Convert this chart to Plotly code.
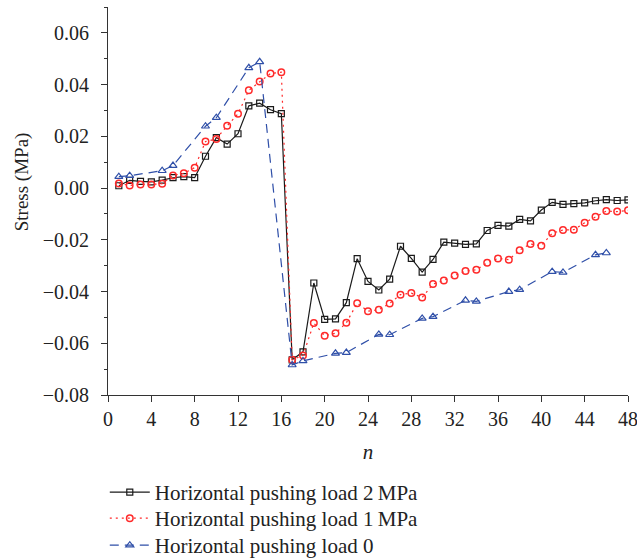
import plotly.graph_objects as go

n_all = list(range(1, 49))
load2 = [0.0009, 0.0030, 0.0026, 0.0024, 0.0031, 0.0040, 0.0044, 0.0040, 0.0123, 0.0195,
         0.0170, 0.0210, 0.0318, 0.0328, 0.0303, 0.0288, -0.0664, -0.0633, -0.0367, -0.0508,
         -0.0506, -0.0443, -0.0273, -0.0361, -0.0394, -0.0352, -0.0225, -0.0272, -0.0325, -0.0276,
         -0.0209, -0.0213, -0.0218, -0.0216, -0.0164, -0.0144, -0.0147, -0.0121, -0.0127, -0.0085,
         -0.0055, -0.0063, -0.0060, -0.0057, -0.0049, -0.0045, -0.0048, -0.0046]
load1 = [0.0018, 0.0010, 0.0014, 0.0014, 0.0017, 0.0049, 0.0057, 0.0079, 0.0180, 0.0190,
         0.0241, 0.0287, 0.0378, 0.0412, 0.0443, 0.0448, -0.0664, -0.0647, -0.0522, -0.0571,
         -0.0561, -0.0521, -0.0445, -0.0476, -0.0470, -0.0446, -0.0412, -0.0406, -0.0423, -0.0371,
         -0.0357, -0.0338, -0.0321, -0.0316, -0.0289, -0.0272, -0.0277, -0.0240, -0.0216, -0.0223,
         -0.0175, -0.0162, -0.0161, -0.0134, -0.0111, -0.0089, -0.0091, -0.0086]
n_load0 = [1, 2, 5, 6, 9, 10, 13, 14, 17, 18, 21, 22, 25, 26, 29, 30, 33, 34, 37, 38, 41, 42, 45, 46]
load0 = [0.0044, 0.0048, 0.0067, 0.0087, 0.0239, 0.0272, 0.0465, 0.0488, -0.0684, -0.0668,
         -0.0639, -0.0636, -0.0566, -0.0567, -0.0504, -0.0497, -0.0434, -0.0438, -0.0400, -0.0393,
         -0.0323, -0.0326, -0.0258, -0.0251]

x_ticks = list(range(0, 49, 4))
y_ticks = [-0.08, -0.06, -0.04, -0.02, 0.0, 0.02, 0.04, 0.06]

FONT = "Liberation Serif"
fig = go.Figure()
fig.add_trace(go.Scatter(x=n_all, y=load2, mode="lines+markers", name="Horizontal pushing load 2\u2009MPa",
                         legend="legend",
                         line=dict(color="#1a1a1a", width=1.2),
                         marker=dict(symbol="square-open", size=6, color="#1a1a1a", line=dict(width=1.2))))
fig.add_trace(go.Scatter(x=n_all, y=load1, mode="lines+markers", name="Horizontal pushing load 1\u2009MPa",
                         legend="legend2",
                         line=dict(color="#ff2a2a", width=1.2, dash="2px,4px"),
                         marker=dict(symbol="circle-open", size=6.5, color="#ff2a2a", line=dict(width=1.5))))
fig.add_trace(go.Scatter(x=n_load0, y=load0, mode="lines+markers", name="Horizontal pushing load 0",
                         legend="legend3",
                         line=dict(color="#2f4fa8", width=1.2, dash="9px,6px"),
                         marker=dict(symbol="triangle-up-open", size=7, color="#2f4fa8", line=dict(width=1.2))))

leg_common = dict(xref="container", yref="container", x=0.1645, xanchor="left", yanchor="top",
                  font=dict(family=FONT, size=21, color="#222"),
                  bgcolor="rgba(0,0,0,0)", itemwidth=40, tracegroupgap=0)

fig.update_layout(
    width=637, height=560,
    margin=dict(l=108, r=9, t=7, b=165, autoexpand=False),
    paper_bgcolor="white", plot_bgcolor="white",
    font=dict(family=FONT, size=20, color="#222"),
    showlegend=True,
    legend=dict(y=0.1571, **leg_common),
    legend2=dict(y=0.1107, **leg_common),
    legend3=dict(y=0.0625, **leg_common),
    xaxis=dict(range=[0, 48], tickvals=x_ticks, ticks="outside", ticklen=6, tickcolor="#333",
               showline=True, linecolor="#333", linewidth=1, showgrid=False, zeroline=False,
               ticklabeloverflow="allow",
               title=dict(text="<i>n</i>", font=dict(family=FONT, size=21), standoff=15),
               tickfont=dict(family=FONT, size=20)),
    yaxis=dict(range=[-0.08, 0.07], tickvals=y_ticks, tickformat=".2f", ticks="outside", ticklen=6,
               tickcolor="#333", showline=True, linecolor="#333", linewidth=1, showgrid=False,
               zeroline=False, ticklabelstandoff=8,
               minor=dict(tickvals=[-0.07, -0.05, -0.03, -0.01, 0.01, 0.03, 0.05, 0.07], ticks="outside",
                          ticklen=3, tickcolor="#333"),
               tickfont=dict(family=FONT, size=20)),
    annotations=[dict(text="Stress (MPa)", textangle=-90, xref="paper", yref="paper",
                      x=-0.166, y=0.55, xanchor="center", yanchor="middle", showarrow=False,
                      font=dict(family=FONT, size=19, color="#222"))],
)
fig.write_html("out.html", config={"displayModeBar": False},
               post_script="document.body.style.margin='0';")
